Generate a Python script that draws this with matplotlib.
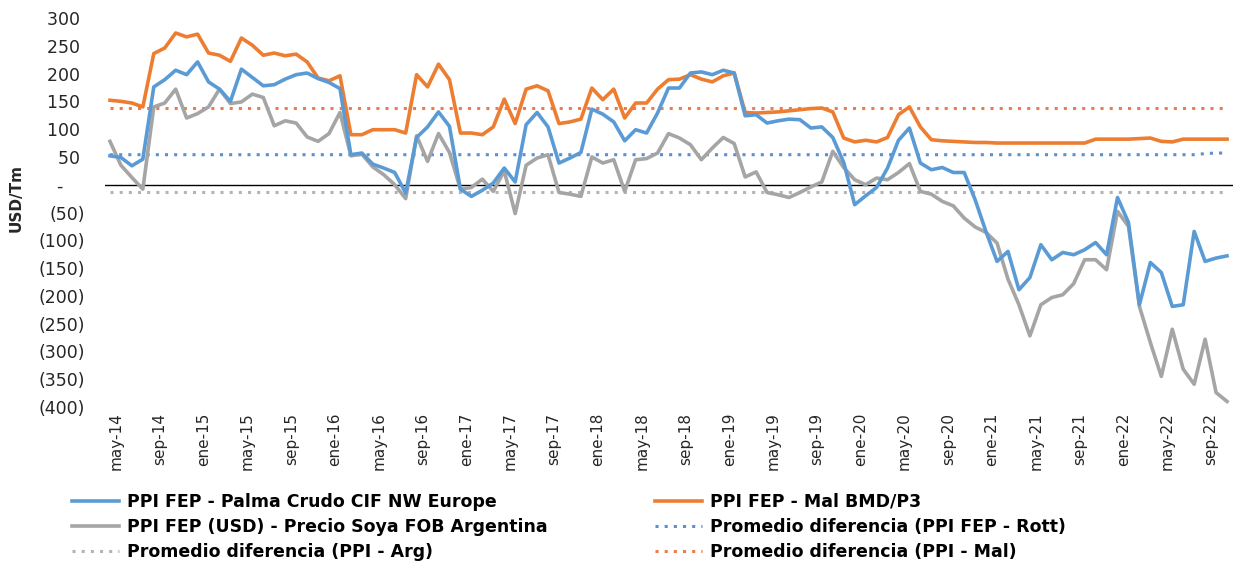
import matplotlib
matplotlib.use("Agg")
import matplotlib.pyplot as plt
import matplotlib.transforms as mtransforms
from matplotlib.ticker import FuncFormatter

# monthly, may-14 .. nov-22
months = ["ene", "feb", "mar", "abr", "may", "jun", "jul", "ago", "sep", "oct", "nov", "dic"]
dates = []
for y in range(14, 23):
    for m in range(12):
        if (y == 14 and m < 4) or (y == 22 and m > 10):
            continue
        dates.append(f"{months[m]}-{y}")

palma = [52, 49, 34, 46, 176, 189, 206, 198, 221, 185, 172, 150, 208, 193, 178, 180, 190, 198, 201, 191,
         184, 173, 54, 57, 37, 30, 22, -15, 85, 104, 131, 105, -8, -21, -10, 3, 30, 5, 108, 130,
         104, 39, 48, 58, 136, 127, 113, 79, 99, 93, 129, 174, 174, 201, 203, 198, 206, 201, 124, 126,
         111, 115, 118, 117, 102, 104, 85, 40, -36, -20, -5, 30, 80, 102, 39, 27, 31, 22, 22, -27,
         -85, -138, -120, -189, -167, -108, -135, -122, -126, -117, -104, -126, -23, -68, -216, -140, -158, -219, -216, -84,
         -138, -132, -128]

mal = [152, 150, 147, 140, 236, 246, 273, 266, 271, 237, 233, 222, 264, 251, 233, 237, 232, 235, 221, 192,
       187, 196, 90, 90, 99, 99, 99, 93, 198, 176, 217, 189, 93, 93, 90, 104, 154, 110, 172, 178,
       169, 110, 113, 118, 174, 153, 172, 120, 147, 147, 172, 189, 190, 198, 190, 185, 196, 201, 130, 129,
       130, 131, 133, 135, 137, 138, 131, 84, 77, 80, 77, 85, 126, 140, 104, 81, 79, 78, 77, 76,
       76, 75, 75, 75, 75, 75, 75, 75, 75, 75, 82, 82, 82, 82, 83, 84, 78, 77, 82, 82,
       82, 82, 82]

soya = [78, 35, 13, -8, 140, 147, 172, 120, 128, 140, 172, 146, 149, 163, 157, 106, 115, 111, 86, 78,
        92, 130, 52, 55, 32, 18, 0, -25, 88, 42, 92, 58, -8, -5, 10, -12, 25, -52, 35, 48,
        54, -14, -17, -21, 50, 39, 45, -12, 45, 47, 57, 92, 84, 72, 45, 66, 85, 74, 14, 23,
        -14, -18, -23, -14, -4, 5, 60, 31, 9, 0, 12, 9, 22, 38, -12, -17, -30, -38, -60, -76,
        -86, -105, -170, -216, -272, -216, -203, -198, -178, -135, -135, -153, -48, -75, -219, -284, -345, -260, -332, -359,
        -278, -374, -390]

avg_rott = [54] * 100 + [56, 57, 57]
avg_mal = [138] * len(dates)
avg_arg = [-14] * len(dates)

labels = ["PPI FEP - Palma Crudo CIF NW Europe", "PPI FEP - Mal BMD/P3",
          "PPI FEP (USD) - Precio Soya FOB Argentina", "Promedio diferencia (PPI FEP - Rott)",
          "Promedio diferencia (PPI - Arg)", "Promedio diferencia (PPI - Mal)"]

blue = "#5B9BD5"
orange = "#ED7D31"
gray = "#A5A5A5"

fig = plt.figure(figsize=(12.34, 5.65), dpi=100)
ax = fig.add_axes([104.5 / 1234, 1 - 407 / 565, 1128 / 1234, 389 / 565])

x = list(range(len(dates)))
ax.axhline(0, color="black", lw=1.0, zorder=1)
l_arg, = ax.plot(x, avg_arg, color="#B4B4B4", lw=2.2, ls=(0, (1, 2)), zorder=2)
l_rott, = ax.plot(x, avg_rott, color="#5B8FD0", lw=2.2, ls=(0, (1, 2)), zorder=2)
l_malavg, = ax.plot(x, avg_mal, color="#EE7B4D", lw=2.2, ls=(0, (1, 2)), zorder=2)
l_soya, = ax.plot(x, soya, color=gray, lw=2.6, zorder=3)
l_mal, = ax.plot(x, mal, color=orange, lw=2.6, zorder=4)
l_palma, = ax.plot(x, palma, color=blue, lw=2.6, zorder=5)

ax.set_xlim(-0.5, len(dates) - 0.5)
ax.set_ylim(-400, 300)
ax.set_yticks(range(-400, 301, 50))


def fmt(v, pos):
    if v > 0:
        return f"{v:.0f} "
    if v == 0:
        return "-    "
    return f"({-v:.0f})"


ax.yaxis.set_major_formatter(FuncFormatter(fmt))
ax.tick_params(axis="y", length=0, pad=14, labelsize=12.5, labelcolor="#262626")
ax.tick_params(axis="x", length=0, pad=4)

xt = x[::4]
ax.set_xticks(xt)
ax.set_xticklabels([dates[i] for i in xt], rotation=90, fontsize=11,
                   family=["Liberation Sans Narrow", "DejaVu Sans"], color="#262626")
shift = mtransforms.ScaledTranslation(0.06, 0, fig.dpi_scale_trans)
for t in ax.get_xticklabels():
    t.set_transform(t.get_transform() + shift)

for s in ax.spines.values():
    s.set_visible(False)

ax.set_ylabel("USD/Tm", fontsize=11, fontweight="bold", color="#262626")
ax.yaxis.set_label_coords(-0.072, 0.537)

handles = [l_palma, l_soya, l_arg, l_mal, l_rott, l_malavg]
leg_labels = [labels[0], labels[2], labels[4], labels[1], labels[3], labels[5]]
fig.legend(handles, leg_labels, ncol=2, loc="upper left", bbox_to_anchor=(72 / 1234, 1 - 493 / 565),
           frameon=False, prop={"weight": "bold", "size": 12.5}, handlelength=2.7,
           handletextpad=0.45, columnspacing=6.2, labelspacing=0.4, borderaxespad=0,
           borderpad=0)

fig.savefig("out.png", dpi=100)
